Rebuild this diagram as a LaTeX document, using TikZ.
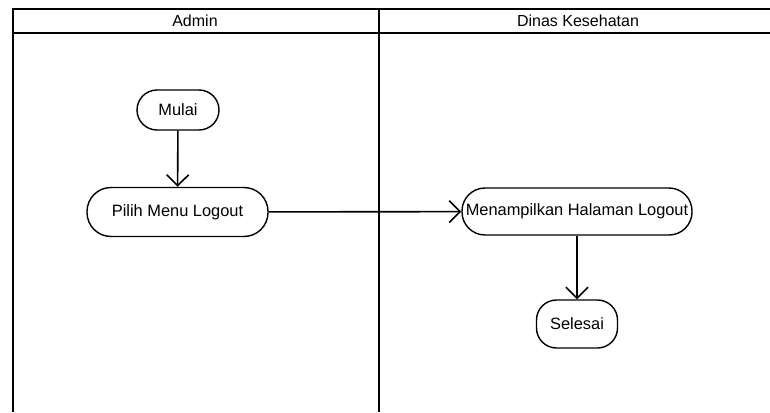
\documentclass[tikz,border=0pt]{standalone}
\usepackage{fontspec}
\setmainfont{Liberation Sans}
\usetikzlibrary{arrows.meta}

\begin{document}
\begin{tikzpicture}[x=1pt,y=-1pt,
  lane/.style={line width=2.6pt},
  titre/.style={font=\fontsize{16}{19}\selectfont},
  act/.style={draw,line width=1.4pt,rounded corners=20pt,inner sep=0pt,
    align=center,font=\fontsize{16.4}{19}\selectfont},
  fleche/.style={line width=1.6pt,-{Straight Barb[length=11pt,width=22pt,line width=1.6pt]}}]
\useasboundingbox (0,0) rectangle (770,412);
% couloirs
\draw[lane] (13,412) |- (770,9);
\draw[lane] (13,33) -- (770,33);
\draw[lane] (379,9) -- (379,412);
\node[titre] (admin) at (195,21) {Admin};
\node[titre] (dinas) at (578,21) {Dinas Kesehatan};
% activites
\node[act,minimum width=82pt,minimum height=40pt] (mulai) at (178,110) {Mulai};
\node[act,minimum width=181pt,minimum height=49pt,rounded corners=24pt] (pilih) at (177.5,212) {Pilih Menu Logout};
\node[act,minimum width=230pt,minimum height=47pt,rounded corners=23pt] (tampil) at (577,211.5) {Menampilkan Halaman Logout};
\node[act,minimum width=81pt,minimum height=48pt] (selesai) at (577,324) {Selesai};
\draw[fleche] (mulai) -- (pilih);
\draw[fleche] (pilih) -- (tampil);
\draw[fleche] (tampil) -- (selesai);
\end{tikzpicture}
\end{document}
